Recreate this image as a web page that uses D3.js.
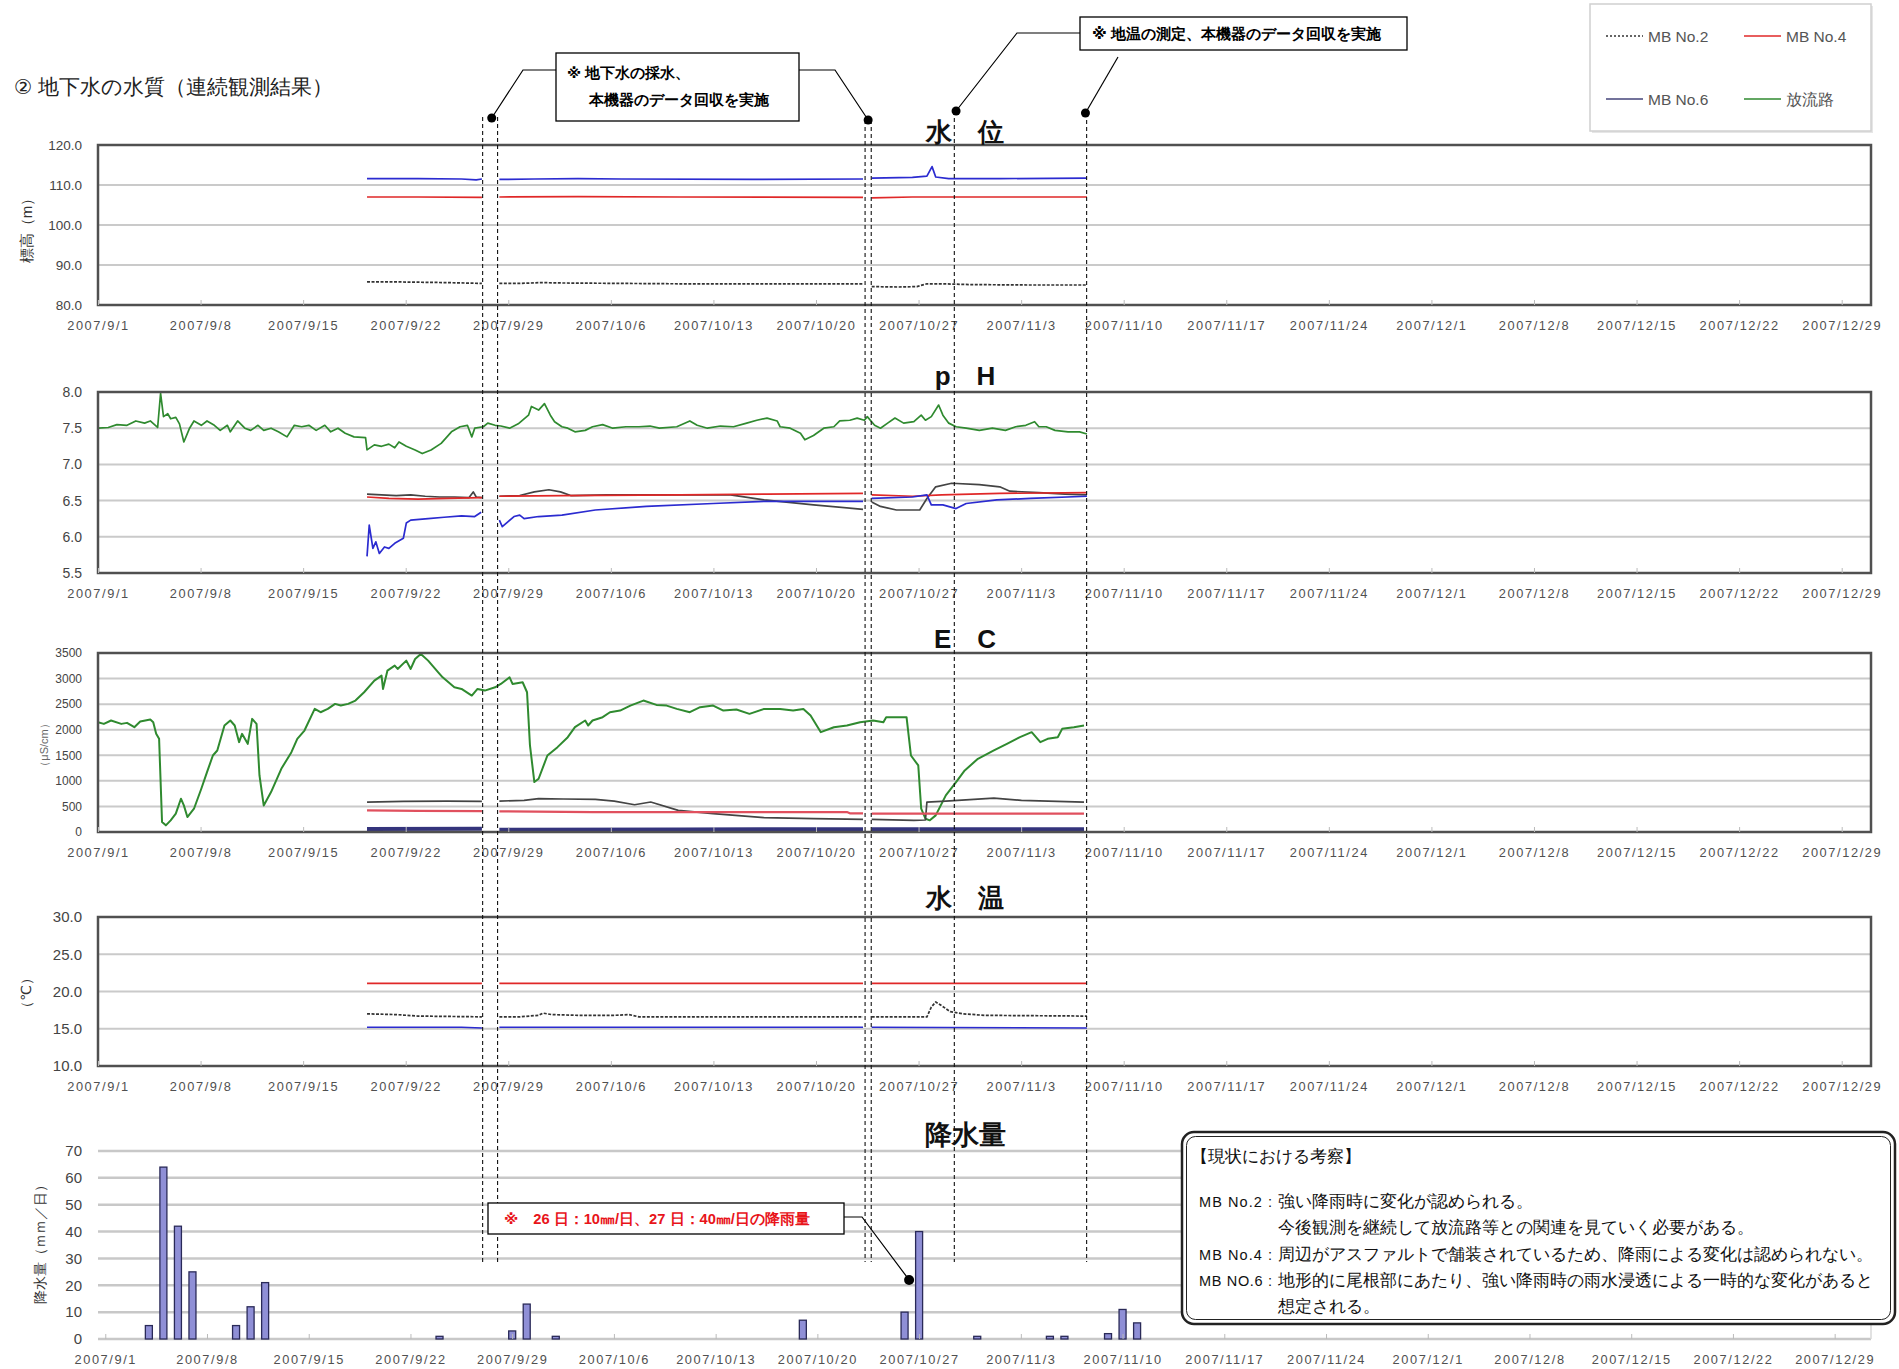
<!DOCTYPE html>
<html>
<head>
<meta charset="utf-8">
<script src="https://cdn.jsdelivr.net/npm/d3@7"></script>
<style>
  body { margin: 0; background: #fff; }
  svg text { font-family: "Liberation Sans", "DejaVu Sans", sans-serif; }
</style>
</head>
<body>
<svg id="chart" width="1899" height="1369"></svg>
<script>
// 地下水の水質 — continuous monitoring, Sep–Dec 2007
// Series points are [days since 2007/9/1, value]; null = logger gap

const START = new Date(2007, 8, 1);
const END   = new Date(2007, 11, 31);

const TICK_LABELS = ['2007/9/1','2007/9/8','2007/9/15','2007/9/22','2007/9/29','2007/10/6','2007/10/13',
  '2007/10/20','2007/10/27','2007/11/3','2007/11/10','2007/11/17','2007/11/24','2007/12/1','2007/12/8',
  '2007/12/15','2007/12/22','2007/12/29'];

const WL_TICKS   = [80, 90, 100, 110, 120];
const PH_TICKS   = [5.5, 6.0, 6.5, 7.0, 7.5, 8.0];
const EC_TICKS   = [0, 500, 1000, 1500, 2000, 2500, 3000, 3500];
const TEMP_TICKS = [10, 15, 20, 25, 30];
const RAIN_TICKS = [0, 10, 20, 30, 40, 50, 60, 70];

// ── 水位 (m) ────────────────────────────────────────────────────────────────
const WL_MB2 = [[18.36,85.8],[19.85,85.8],[21.84,85.7],[23.82,85.6],[26.2,85.4],null,[27.39,85.4],[28.78,85.4],
  [30.27,85.6],[31.76,85.5],[35.73,85.4],[39.7,85.3],[44.66,85.3],[49.63,85.3],[52.21,85.3],null,[52.8,84.6],
  [54.59,84.5],[55.88,84.6],[56.57,85.3],[57.57,85.3],[59.55,85.1],[63.52,85.0],[67.49,85.0]];
const WL_MB4 = [[18.36,107.0],[21.84,107.0],[26.2,106.9],null,[27.39,107.0],[32.75,107.1],[39.7,107.0],
  [52.21,106.9],null,[52.8,106.8],[55.58,107.0],[59.55,107.0],[67.49,107.0]];
const WL_MB6 = [[18.36,111.6],[21.84,111.6],[24.81,111.5],[25.81,111.3],[26.2,111.5],null,[27.39,111.4],
  [29.78,111.5],[32.75,111.6],[35.73,111.5],[44.66,111.4],[52.21,111.5],null,[52.8,111.7],[55.58,111.9],
  [56.57,112.2],[56.92,114.6],[57.17,112.0],[58.06,111.6],[61.54,111.6],[67.49,111.7]];

// ── pH ──────────────────────────────────────────────────────────────────────
const PH_OUT = [[0,7.50],[0.7,7.51],[1.29,7.55],[1.98,7.54],[2.58,7.60],[3.18,7.57],[3.57,7.60],[4.07,7.51],
  [4.27,7.98],[4.47,7.66],[4.76,7.70],[4.96,7.63],[5.31,7.65],[5.56,7.56],[5.86,7.31],[6.25,7.50],[6.55,7.60],
  [7.05,7.54],[7.44,7.60],[7.94,7.54],[8.34,7.47],[8.83,7.54],[9.03,7.45],[9.53,7.60],[10.02,7.50],[10.42,7.47],
  [10.92,7.54],[11.31,7.47],[11.81,7.50],[12.31,7.45],[12.9,7.38],[13.4,7.54],[13.9,7.52],[14.39,7.54],
  [14.89,7.47],[15.48,7.54],[15.88,7.45],[16.38,7.50],[16.87,7.43],[17.47,7.38],[18.26,7.37],[18.36,7.20],
  [18.86,7.27],[19.35,7.25],[19.85,7.28],[20.25,7.23],[20.54,7.31],[21.04,7.25],[21.64,7.20],[22.13,7.15],
  [22.73,7.20],[23.42,7.29],[24.12,7.45],[24.71,7.52],[25.21,7.54],[25.51,7.38],[25.71,7.50],[26.3,7.52],
  [26.6,7.57],[27.1,7.54],[27.49,7.53],[28.09,7.50],[28.68,7.56],[29.38,7.68],[29.58,7.80],[30.07,7.75],
  [30.47,7.84],[30.87,7.68],[31.16,7.59],[31.66,7.52],[32.06,7.50],[32.55,7.45],[33.25,7.47],[33.75,7.52],
  [34.44,7.55],[35.13,7.50],[36.03,7.52],[36.92,7.52],[37.67,7.53],[38.31,7.50],[39.5,7.52],[40.39,7.60],
  [40.89,7.54],[41.59,7.50],[42.48,7.53],[43.37,7.52],[44.27,7.57],[44.96,7.61],[45.66,7.64],[46.35,7.60],
  [46.55,7.52],[47.24,7.50],[47.94,7.43],[48.24,7.34],[48.83,7.40],[49.53,7.50],[50.22,7.52],[50.62,7.60],
  [51.31,7.61],[51.81,7.64],[52.3,7.61],[52.5,7.66],[53.0,7.54],[53.4,7.50],[53.89,7.57],[54.39,7.64],
  [54.98,7.57],[55.68,7.59],[56.18,7.68],[56.47,7.61],[56.87,7.66],[57.37,7.82],[57.66,7.68],[58.06,7.57],
  [58.56,7.52],[59.25,7.50],[60.15,7.47],[61.04,7.50],[61.93,7.47],[62.63,7.52],[63.32,7.54],[63.92,7.59],
  [64.21,7.52],[64.71,7.52],[65.31,7.47],[66.2,7.45],[66.99,7.45],[67.49,7.42]];
const PH_MB2 = [[18.36,6.59],[19.35,6.58],[20.35,6.57],[21.34,6.58],[22.33,6.56],[23.32,6.55],[24.32,6.55],
  [25.31,6.54],[25.61,6.62],[25.81,6.55],[26.2,6.54],null,[27.39,6.56],[28.78,6.57],[29.78,6.62],[30.77,6.65],
  [31.56,6.62],[32.26,6.57],[34.74,6.58],[39.7,6.58],[43.17,6.58],[45.46,6.51],[48.83,6.44],[52.21,6.38],null,
  [52.8,6.48],[53.4,6.42],[54.49,6.37],[56.08,6.37],[56.57,6.53],[57.17,6.69],[58.26,6.74],[60.15,6.72],
  [61.54,6.69],[62.23,6.63],[64.21,6.61],[66.0,6.59],[67.49,6.58]];
const PH_MB4 = [[18.36,6.55],[19.85,6.53],[21.84,6.52],[23.82,6.53],[26.2,6.54],null,[27.39,6.56],[31.76,6.57],
  [39.7,6.58],[45.66,6.59],[52.21,6.60],null,[52.8,6.58],[55.58,6.56],[57.57,6.58],[61.54,6.60],[67.49,6.61]];
const PH_MB6 = [[18.36,5.73],[18.51,6.16],[18.76,5.84],[18.96,5.93],[19.2,5.77],[19.55,5.86],[19.85,5.84],
  [20.25,5.91],[20.84,5.98],[21.04,6.19],[21.34,6.23],[22.53,6.25],[23.62,6.27],[24.81,6.29],[25.71,6.28],
  [26.15,6.34],null,[27.39,6.23],[27.59,6.14],[27.99,6.21],[28.39,6.28],[28.78,6.30],[29.08,6.25],[30.07,6.28],
  [31.66,6.30],[33.94,6.37],[37.42,6.42],[41.98,6.46],[45.46,6.49],[48.83,6.49],[52.21,6.49],null,[52.8,6.53],
  [55.58,6.55],[56.57,6.58],[56.87,6.44],[57.66,6.44],[58.56,6.39],[59.25,6.46],[61.34,6.51],[63.62,6.53],
  [67.49,6.56]];

// ── EC (μS/cm) ──────────────────────────────────────────────────────────────
const EC_OUT = [[0,2147],[0.4,2114],[0.89,2180],[1.59,2114],[1.98,2134],[2.48,2049],[2.88,2160],[3.57,2199],
  [3.77,2147],[3.97,1919],[4.17,1822],[4.37,195],[4.63,130],[4.96,228],[5.31,358],[5.66,651],[5.86,520],
  [6.1,293],[6.55,455],[7.05,846],[7.44,1171],[7.84,1496],[8.14,1594],[8.63,2082],[9.03,2180],[9.33,2082],
  [9.63,1757],[9.83,1919],[10.22,1724],[10.52,2212],[10.82,2114],[11.02,1106],[11.31,520],[11.81,781],
  [12.51,1236],[13.2,1561],[13.6,1822],[14.09,1984],[14.79,2407],[15.19,2342],[15.68,2407],[16.18,2505],
  [16.57,2472],[17.07,2505],[17.57,2570],[18.16,2733],[18.86,2960],[19.35,3058],[19.45,2798],[19.75,3155],
  [20.25,3253],[20.45,3188],[21.04,3351],[21.34,3188],[21.64,3383],[22.03,3481],[22.53,3351],[23.22,3123],
  [23.52,3025],[24.32,2830],[24.81,2798],[25.51,2668],[25.9,2798],[26.4,2765],[27.1,2830],[27.49,2895],
  [28.09,3025],[28.29,2895],[28.98,2928],[29.28,2733],[29.48,1692],[29.78,976],[30.07,1041],[30.67,1496],
  [31.36,1659],[32.06,1854],[32.55,2049],[33.25,2180],[33.45,2082],[33.75,2180],[34.44,2245],[34.94,2342],
  [35.63,2375],[36.33,2472],[37.22,2570],[38.11,2485],[38.81,2472],[39.5,2407],[40.39,2342],[41.09,2440],
  [41.98,2472],[42.68,2375],[43.57,2394],[44.46,2310],[45.46,2407],[46.55,2407],[47.44,2375],[48.14,2407],
  [48.63,2277],[49.33,1952],[50.22,2049],[51.11,2082],[52.01,2147],[52.9,2180],[53.6,2147],[53.79,2245],
  [54.69,2245],[55.18,2245],[55.48,1496],[55.98,1301],[56.18,455],[56.47,260],[56.77,228],[57.17,325],
  [57.86,716],[58.56,976],[59.15,1204],[60.05,1431],[61.14,1594],[62.03,1724],[62.92,1854],[63.72,1952],
  [64.31,1757],[64.81,1822],[65.5,1854],[65.8,2017],[66.6,2049],[67.29,2082]];
const EC_MB2 = [[18.36,586],[20.84,600],[23.82,605],[26.2,599],null,[27.39,605],[29.08,618],[30.07,651],
  [31.76,645],[33.94,638],[35.23,605],[36.62,533],[37.72,586],[39.6,423],[41.98,358],[45.46,280],[48.83,260],
  [52.21,247],null,[52.8,247],[55.68,228],[56.47,235],[56.57,586],[57.86,605],[61.14,664],[63.02,618],
  [67.29,586]];
const EC_MB4 = [[18.36,423],[21.84,415],[26.2,410],null,[27.39,403],[33.75,390],[43.67,390],[51.11,390],
  [51.31,365],[52.21,365],null,[52.8,360],[59.55,360],[67.29,360]];
const EC_MB6 = [[18.36,60],[26.2,62],null,[27.39,45],[39.7,50],[52.21,55],null,[52.8,55],[67.29,55]];

// ── 水温 (℃) ────────────────────────────────────────────────────────────────
const TEMP_MB2 = [[18.36,17.0],[20.35,16.9],[21.84,16.7],[26.2,16.6],null,[27.39,16.6],[28.78,16.6],
  [30.07,16.8],[30.37,17.1],[30.97,16.9],[32.75,16.8],[35.23,16.8],[36.23,16.9],[36.92,16.6],[44.66,16.6],
  [52.21,16.6],null,[52.8,16.6],[56.57,16.6],[56.87,17.9],[57.17,18.6],[57.57,18.1],[58.16,17.3],[59.05,17.0],
  [60.54,16.8],[67.49,16.7]];
const TEMP_MB4 = [[18.36,21.1],[26.2,21.1],null,[27.39,21.1],[52.21,21.1],null,[52.8,21.1],[67.49,21.1]];
const TEMP_MB6 = [[18.36,15.2],[24.81,15.2],[26.2,15.1],null,[27.39,15.2],[52.21,15.2],null,[52.8,15.2],
  [67.49,15.1]];

// ── 降水量 (mm/日) ───────────────────────────────────────────────────────────
const RAIN_DATES = ['2007/9/4','2007/9/5','2007/9/6','2007/9/7','2007/9/10','2007/9/11','2007/9/12','2007/9/24',
  '2007/9/29','2007/9/30','2007/10/2','2007/10/19','2007/10/26','2007/10/27','2007/10/31','2007/11/5','2007/11/6',
  '2007/11/9','2007/11/10','2007/11/11'];
const RAIN_MM = [5, 64, 42, 25, 5, 12, 21, 1, 3, 13, 1, 7, 10, 40, 1, 1, 1, 2, 11, 6];

// logger visits (dashed verticals) and callout dots, in days since 9/1
const EVENT_DAYS = [26.25, 27.27, 52.35, 52.77, 58.44, 67.47];
const EVENT_TOPS = [117, 117, 120, 120, 111, 113];
const DOT_DAYS   = [26.87, 52.56, 58.56, 67.39];
const DOT_TOPS   = [118, 120, 111, 113];

const NOTE_LINES = [
    ['MB No.2 :', '強い降雨時に変化が認められる。'],
    ['',          '今後観測を継続して放流路等との関連を見ていく必要がある。'],
    ['MB No.4 :', '周辺がアスファルトで舗装されているため、降雨による変化は認められない。'],
    ['MB NO.6 :', '地形的に尾根部にあたり、強い降雨時の雨水浸透による一時的な変化があると'],
    ['',          '想定される。'],
];

const SERIES = [
    { key: 'mb2', label: 'MB No.2', color: '#333333', dash: '3,1.5' },
    { key: 'mb4', label: 'MB No.4', color: '#e02828' },
    { key: 'mb6', label: 'MB No.6', color: '#2b2bd0' },
    { key: 'out', label: '放流路',   color: '#2f8a2f' },
];
const COL = Object.fromEntries(SERIES.map(s => [s.key, s]));

// ── Layout ──────────────────────────────────────────────────────────────────
const JP = '"Noto Sans CJK JP", "Noto Sans", sans-serif';
const X0 = 98, X1 = 1871;
const svg = d3.select('#chart');
const dayToDate = d => new Date(START.getTime() + d * 864e5);
const x = d3.scaleTime().domain([START, END]).range([X0, X1]);
const parseTick = d3.timeParse('%Y/%m/%d');
const tickDates = TICK_LABELS.map(parseTick);

const PANELS = [
    { title: '水　位', titleY: 141, top: 145, bottom: 305, domain: [80, 120], ticks: WL_TICKS, fmt: '.1f', lab: 13.5,
      ytitle: '標高（m）', ytX: 26, ytY: 227, ytSize: 15,
      series: [['mb2', WL_MB2], ['mb4', WL_MB4], ['mb6', WL_MB6]] },
    { title: 'p　H', titleY: 385, top: 392, bottom: 573, domain: [5.5, 8.0], ticks: PH_TICKS, fmt: '.1f', lab: 14,
      series: [['out', PH_OUT], ['mb2', PH_MB2, { dash: null, color: '#444' }], ['mb4', PH_MB4], ['mb6', PH_MB6]] },
    { title: 'E　C', titleY: 648, top: 653, bottom: 832, domain: [0, 3500], ticks: EC_TICKS, fmt: 'd', lab: 12,
      ytitle: '（μS/cm）', ytX: 44, ytY: 745, ytSize: 11, ytColor: '#666',
      series: [['out', EC_OUT, { width: 2 }], ['mb2', EC_MB2, { dash: null, color: '#444' }],
               ['mb4', EC_MB4, { color: '#e0505e', width: 2.2 }], ['mb6', EC_MB6, { color: '#34347c', width: 4 }]] },
    { title: '水　温', titleY: 907, top: 917, bottom: 1066, domain: [10, 30], ticks: TEMP_TICKS, fmt: '.1f', lab: 15,
      ytitle: '（℃）', ytX: 26, ytY: 993, ytSize: 14,
      series: [['mb2', TEMP_MB2], ['mb4', TEMP_MB4], ['mb6', TEMP_MB6]] },
];

// ── Header ──────────────────────────────────────────────────────────────────
svg.append('text').attr('x', 14).attr('y', 94).attr('font-family', JP).attr('font-size', 20.5)
    .attr('fill', '#222').text('② 地下水の水質（連続観測結果）');

function xAxis(g, scale, tickPos, y) {
    const ax = d3.axisBottom(scale).tickValues(tickPos).tickFormat((d, i) => TICK_LABELS[i])
        .tickSizeInner(-5).tickSizeOuter(0).tickPadding(16);
    g.append('g').attr('transform', `translate(0,${y})`).call(ax)
        .call(a => a.select('.domain').remove())
        .call(a => a.selectAll('line').attr('stroke', '#bbb'))
        .call(a => a.selectAll('text').attr('fill', '#505050').attr('font-size', 12.8)
            .attr('font-family', '"Liberation Sans", sans-serif').attr('letter-spacing', 1.6));
}

function yAxis(g, y, ticks, fmt, size) {
    const ax = d3.axisLeft(y).tickValues(ticks).tickFormat(d3.format(fmt)).tickSize(0).tickPadding(16);
    g.append('g').attr('transform', `translate(${X0},0)`).call(ax)
        .call(a => a.select('.domain').remove())
        .call(a => a.selectAll('text').attr('fill', '#444').attr('font-size', size)
            .attr('font-family', '"Liberation Sans", sans-serif'));
}

function panelTitle(text, y, size) {
    svg.append('text').attr('x', 965).attr('y', y).attr('text-anchor', 'middle')
        .attr('font-family', JP).attr('font-weight', 700).attr('font-size', size || 26)
        .attr('fill', '#111').text(text);
}

function yTitle(text, px, py, size, color) {
    svg.append('text').attr('transform', `translate(${px},${py}) rotate(-90)`)
        .attr('text-anchor', 'middle').attr('dominant-baseline', 'central')
        .attr('font-family', JP).attr('font-size', size).attr('fill', color || '#333').text(text);
}

PANELS.forEach(p => {
    const y = d3.scaleLinear().domain(p.domain).range([p.bottom, p.top]);
    const g = svg.append('g');

    g.selectAll('.grid').data(p.ticks).join('line')
        .attr('x1', X0).attr('x2', X1).attr('y1', d => y(d)).attr('y2', d => y(d))
        .attr('stroke', '#cacaca').attr('stroke-width', 2);

    p.series.forEach(([key, data, opt]) => {
        const s = Object.assign({}, COL[key], opt || {});
        const line = d3.line().defined(d => d !== null)
            .x(d => x(dayToDate(d[0]))).y(d => y(d[1]));
        g.append('path').datum(data).attr('d', line).attr('fill', 'none')
            .attr('stroke', s.color).attr('stroke-width', s.width || 1.7)
            .attr('stroke-dasharray', s.dash || null).attr('stroke-linejoin', 'round');
    });

    g.append('rect').attr('x', X0).attr('y', p.top).attr('width', X1 - X0).attr('height', p.bottom - p.top)
        .attr('fill', 'none').attr('stroke', '#505050').attr('stroke-width', 2.5);

    yAxis(g, y, p.ticks, p.fmt, p.lab);
    xAxis(g, x, tickDates, p.bottom);
    panelTitle(p.title, p.titleY);
    if (p.ytitle) yTitle(p.ytitle, p.ytX, p.ytY, p.ytSize, p.ytColor);
});

// ── 降水量 bars (band per day) ───────────────────────────────────────────────
const fmtDay = d3.timeFormat('%Y/%-m/%-d');
const DAY_KEYS = d3.timeDay.range(START, d3.timeDay.offset(END, 1)).map(fmtDay);
const xb = d3.scaleBand().domain(DAY_KEYS).range([X0, X1]);
const RB = { top: 1151, bottom: 1339 };
const yr = d3.scaleLinear().domain([0, 70]).range([RB.bottom, RB.top]);
const gr = svg.append('g');

gr.selectAll('.grid').data(RAIN_TICKS).join('line')
    .attr('x1', X0).attr('x2', X1).attr('y1', d => yr(d)).attr('y2', d => yr(d))
    .attr('stroke', '#c8c8c8').attr('stroke-width', 2.5);
gr.append('line').attr('x1', X1).attr('x2', X1).attr('y1', RB.top).attr('y2', RB.bottom)
    .attr('stroke', '#d8d8d8').attr('stroke-width', 1.5);

const rain = RAIN_DATES.map((d, i) => ({ day: d, mm: RAIN_MM[i] }));
gr.selectAll('.bar').data(rain).join('rect')
    .attr('x', d => xb(d.day) + xb.bandwidth() / 2 - 3.5)
    .attr('y', d => yr(d.mm))
    .attr('width', 7)
    .attr('height', d => yr(0) - yr(d.mm))
    .attr('fill', '#8f8fd6').attr('stroke', '#2a2a58').attr('stroke-width', 1.3);

yAxis(gr, yr, RAIN_TICKS, 'd', 15);
const xbCenter = k => xb(k) + xb.bandwidth() / 2;
const xbLin = d3.scaleLinear().domain([0, 1]).range([0, 1]); // identity, ticks sit on band centres
xAxis(gr, xbLin, TICK_LABELS.map(xbCenter), RB.bottom);
panelTitle('降水量', 1144, 27);
yTitle('降水量（ｍｍ／日）', 40, 1241, 13.5);

// ── Logger visit markers & callouts ─────────────────────────────────────────
const ga = svg.append('g');
EVENT_DAYS.forEach((d, i) => {
    ga.append('line').attr('x1', x(dayToDate(d))).attr('x2', x(dayToDate(d)))
        .attr('y1', EVENT_TOPS[i]).attr('y2', 1262)
        .attr('stroke', '#111').attr('stroke-width', 1.1).attr('stroke-dasharray', '4,3');
});
const dots = DOT_DAYS.map((d, i) => [x(dayToDate(d)), DOT_TOPS[i]]);
ga.selectAll('.dot').data(dots).join('circle')
    .attr('cx', d => d[0]).attr('cy', d => d[1]).attr('r', 4.5).attr('fill', '#000');

const lineGen = d3.line();
function leader(pts) {
    ga.append('path').attr('d', lineGen(pts)).attr('fill', 'none').attr('stroke', '#000').attr('stroke-width', 1.2);
}
leader([[556, 70], [523, 70], dots[0]]);
leader([[799, 70], [835, 70], dots[1]]);
leader([[1080, 33], [1017, 33], dots[2]]);
leader([[1118, 57], dots[3]]);

function noteBox(bx, by, bw, bh) {
    ga.append('rect').attr('x', bx).attr('y', by).attr('width', bw).attr('height', bh)
        .attr('fill', '#fff').attr('stroke', '#000').attr('stroke-width', 1.3);
}
function boldText(tx, ty, str, size, color) {
    ga.append('text').attr('x', tx).attr('y', ty).attr('font-family', JP).attr('font-weight', 700)
        .attr('font-size', size).attr('fill', color || '#000').text(str);
}
noteBox(556, 53, 243, 68);
boldText(567, 78, '※ 地下水の採水、', 14.5);
boldText(589, 105, '本機器のデータ回収を実施', 14.8);
noteBox(1080, 17, 327, 33);
boldText(1092, 39, '※ 地温の測定、本機器のデータ回収を実施', 15.2);

// rain callout, pointing at the 10/26–27 bars
const rainDot = [xbCenter('2007/10/27') - 10, yr(22)];
leader([[844, 1217], [862, 1217], rainDot]);
ga.append('circle').attr('cx', rainDot[0]).attr('cy', rainDot[1]).attr('r', 5).attr('fill', '#000');
noteBox(488, 1203, 356, 31);
boldText(504, 1224, '※　26 日：10㎜/日、27 日：40㎜/日の降雨量', 14.7, '#e8141a');

// ── Legend ──────────────────────────────────────────────────────────────────
const lg = svg.append('g');
lg.append('rect').attr('x', 1592).attr('y', 6).attr('width', 281).attr('height', 127).attr('fill', '#e6e6e6');
lg.append('rect').attr('x', 1590).attr('y', 4).attr('width', 281).attr('height', 127)
    .attr('fill', '#fff').attr('stroke', '#d0d0d0').attr('stroke-width', 1.5);
const LEG_POS = [[1606, 36], [1744, 36], [1606, 99], [1744, 99]];
['mb2', 'mb4', 'mb6', 'out'].forEach((k, i) => {
    const s = COL[k], [lx, ly] = LEG_POS[i];
    lg.append('line').attr('x1', lx).attr('x2', lx + 37).attr('y1', ly).attr('y2', ly)
        .attr('stroke', k === 'mb6' ? '#45457a' : s.color).attr('stroke-width', 1.6)
        .attr('stroke-dasharray', k === 'mb2' ? '2,2' : null);
    lg.append('text').attr('x', lx + 42).attr('y', ly).attr('dominant-baseline', 'central')
        .attr('font-family', k === 'out' ? JP : '"Liberation Sans", sans-serif')
        .attr('font-size', 15.5).attr('fill', '#555').text(s.label);
});

// ── 考察 note box ───────────────────────────────────────────────────────────
const nb = svg.append('g');
nb.append('rect').attr('x', 1182).attr('y', 1132).attr('width', 713).attr('height', 192).attr('rx', 12)
    .attr('fill', '#fff').attr('stroke', '#222').attr('stroke-width', 2.5);
nb.append('rect').attr('x', 1186.5).attr('y', 1136.5).attr('width', 704).attr('height', 183).attr('rx', 9)
    .attr('fill', 'none').attr('stroke', '#222').attr('stroke-width', 1);
nb.append('text').attr('x', 1191).attr('y', 1162).attr('font-family', JP).attr('font-size', 17)
    .attr('fill', '#111').text('【現状における考察】');
NOTE_LINES.forEach(([pre, body], i) => {
    const ty = 1207 + i * 26.3;
    if (pre) nb.append('text').attr('x', 1199).attr('y', ty).attr('font-family', '"Liberation Mono", monospace')
        .attr('font-size', 14.5).attr('fill', '#111')
        .attr('textLength', 73).attr('lengthAdjust', 'spacing').text(pre);
    nb.append('text').attr('x', 1278).attr('y', ty).attr('font-family', JP).attr('font-size', 16.8)
        .attr('fill', '#111').text(body);
});
</script>
</body>
</html>
